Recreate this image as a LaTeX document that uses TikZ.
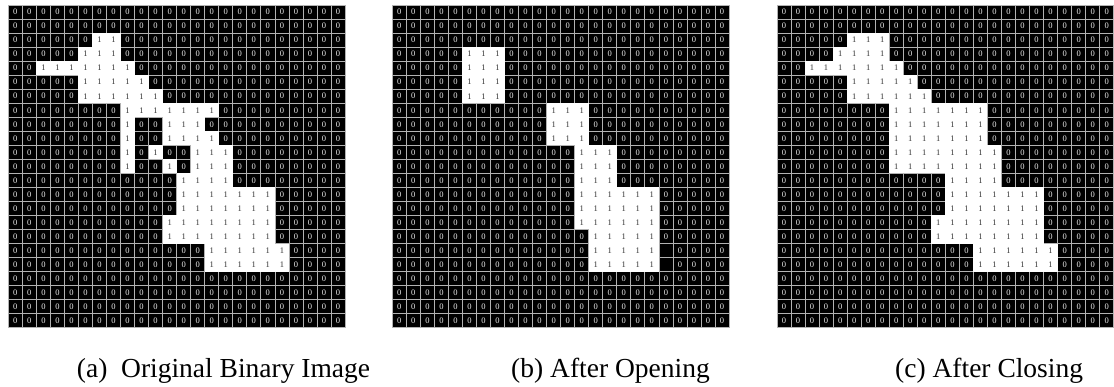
\documentclass[tikz,border=0pt]{standalone}
\usepackage{fontspec}
\setmainfont{Liberation Serif}
\def\cellw{14.03}
\tikzset{
  zcell/.style={fill=black, draw=gray!60, line width=0.7pt},
  ztext/.style={text=gray!15, font=\fontsize{8.5}{8.5}\selectfont, inner sep=0pt},
  otext/.style={text=black!80, font=\fontsize{8.5}{8.5}\selectfont, inner sep=0pt},
  captext/.style={font=\fontsize{27.5}{30}\selectfont, anchor=base west, inner sep=0pt}
}
% #1 x offset, #2 id, #3 list of row/first/last white runs, #4 list of row/col blank black cells
\newcommand\mygrid[4]{%
  \begin{scope}[shift={(#1,5)}]
    \foreach \r in {0,...,22}{
      \foreach \c in {0,...,23}{
        \draw[zcell] (\c*\cellw,\r*\cellw) rectangle ++(\cellw,\cellw);
        \node[ztext] (#2z\r-\c) at ({(\c+0.5)*\cellw},{(\r+0.5)*\cellw}) {0};
      }
    }
    \foreach \r/\c in {#4}{
      \draw[zcell] (\c*\cellw,\r*\cellw) rectangle ++(\cellw,\cellw);
    }
    \foreach \r/\a/\b in {#3}{
      \fill[white] (\a*\cellw,\r*\cellw) rectangle ({(\b+1)*\cellw},{(\r+1)*\cellw});
      \foreach \c in {\a,...,\b}{
        \node[otext] (#2o\r-\c) at ({(\c+0.5)*\cellw},{(\r+0.5)*\cellw}) {1};
      }
    }
  \end{scope}
}
\begin{document}
\begin{tikzpicture}[x=1pt,y=-1pt]
\useasboundingbox (0,0) rectangle (1114,386);
\fill[white] (0,0) rectangle (1114,386);
\mygrid{8.3}{a}{2/6/7,3/5/7,4/2/8,5/5/9,6/5/10,7/8/14,8/8/8,8/11/13,9/8/8,9/11/14,10/8/8,10/10/10,10/13/15,11/8/8,11/11/11,11/13/15,12/12/15,13/12/18,14/12/18,15/11/18,16/11/18,17/14/19,18/14/19}{}
\mygrid{392.3}{b}{3/5/7,4/5/7,5/5/7,6/5/7,7/11/13,8/11/13,9/11/13,10/13/15,11/13/15,12/13/15,13/13/18,14/13/18,15/13/18,16/14/18,17/14/18,18/14/18}{17/19,18/19}
\mygrid{777}{c}{2/5/7,3/4/7,4/2/8,5/5/9,6/5/10,7/8/14,8/8/14,9/8/14,10/8/15,11/8/15,12/12/15,13/12/18,14/12/18,15/11/18,16/11/18,17/14/19,18/14/19}{}
\node[captext] (capa) at (76.7,377) {(a)\ \ Original Binary Image};
\node[captext] (capb) at (511,377) {(b) After Opening};
\node[captext] (capc) at (895,377) {(c) After Closing};
\end{tikzpicture}
\end{document}
